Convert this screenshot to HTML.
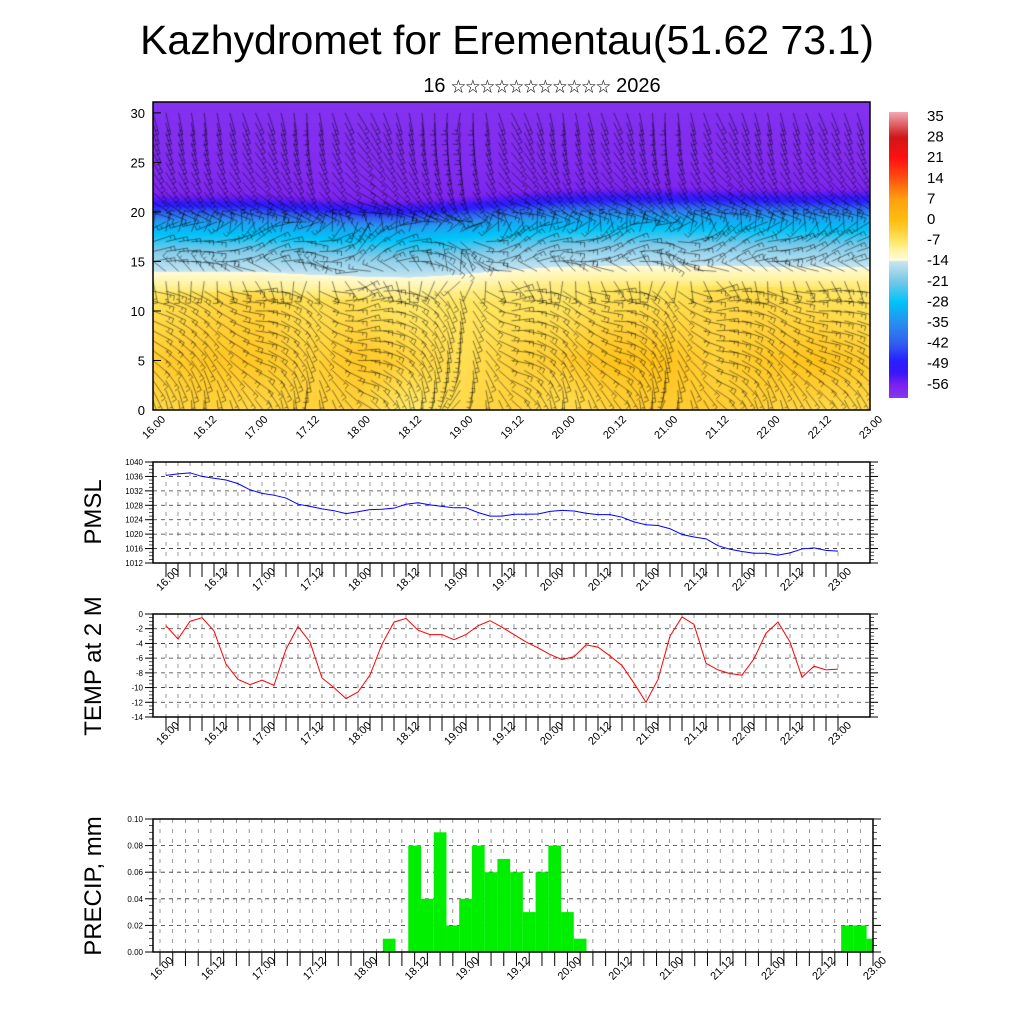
<!DOCTYPE html>
<html><head><meta charset="utf-8">
<style>
html,body{margin:0;padding:0;background:#fff;}
#wrap{position:relative;width:1024px;height:1024px;overflow:hidden;font-family:"Liberation Sans","Noto Sans CJK SC","DejaVu Sans",sans-serif;}
#cv{position:absolute;left:153px;top:102px;}
#cb{position:absolute;left:889px;top:112px;}
svg{position:absolute;left:0;top:0;}
</style></head>
<body>
<div id="wrap">
<canvas id="cv" width="717" height="308"></canvas>
<canvas id="cb" width="19" height="286"></canvas>
<svg id="sv" width="1024" height="1024">
<text x="507" y="54" font-size="41" text-anchor="middle">Kazhydromet for Erementau(51.62 73.1)</text>
<text x="542" y="92" font-size="20" text-anchor="middle">16 <tspan font-size="14.5">☆☆☆☆☆☆☆☆☆☆☆</tspan> 2026</text>
<text transform="translate(101,512) rotate(-90)" font-size="24" text-anchor="middle">PMSL</text>
<text transform="translate(101,666) rotate(-90)" font-size="24" text-anchor="middle">TEMP at 2 M</text>
<text transform="translate(101,886) rotate(-90)" font-size="24" text-anchor="middle">PRECIP, mm</text>
</svg>
</div>
<script>
// ---------- data ----------
const timeLabels = ["16.00","16.12","17.00","17.12","18.00","18.12","19.00","19.12","20.00","20.12","21.00","21.12","22.00","22.12","23.00"];
const pmsl = [1036.3,1036.7,1037,1036,1035.5,1035,1034,1032.3,1031.3,1030.8,1030,1028.3,1027.7,1027,1026.5,1025.7,1026.2,1026.8,1026.9,1027.2,1028.3,1028.7,1028.1,1027.7,1027.3,1027.3,1026,1025,1025,1025.5,1025.5,1025.6,1026.3,1026.6,1026.4,1025.8,1025.4,1025.4,1024.7,1023.4,1022.6,1022.4,1021.5,1019.9,1019.2,1018.7,1016.8,1015.8,1015.2,1014.7,1014.7,1014.2,1014.8,1015.9,1016.2,1015.5,1015.3];
const temp2m = [-1.6,-3.4,-1.0,-0.5,-2.3,-6.8,-8.9,-9.6,-9.0,-9.7,-4.8,-1.7,-3.8,-8.7,-10.0,-11.5,-10.6,-8.3,-4.1,-1.1,-0.6,-2.2,-2.8,-2.8,-3.5,-2.8,-1.6,-0.9,-1.8,-2.8,-3.8,-4.6,-5.5,-6.2,-5.8,-4.2,-4.5,-5.7,-7.0,-9.4,-12.0,-8.9,-3.0,-0.4,-1.4,-6.7,-7.6,-8.1,-8.3,-6.1,-2.6,-1.1,-3.8,-8.6,-7.1,-7.6,-7.5];
const precip = [0,0,0,0,0,0,0,0,0,0,0,0,0,0,0,0,0,0,0.01,0,0.08,0.04,0.09,0.02,0.04,0.08,0.06,0.07,0.06,0.03,0.06,0.08,0.03,0.01,0,0,0,0,0,0,0,0,0,0,0,0,0,0,0,0,0,0,0,0,0.02,0.02,0.01];
const pmslTicks = [1012,1016,1020,1024,1028,1032,1036,1040];
const tempTicks = [0,-2,-4,-6,-8,-10,-12,-14];
const precipTicks = [0,0.02,0.04,0.06,0.08,0.10];
const heightTicks = [0,5,10,15,20,25,30];
const cbLabels = [35,28,21,14,7,0,-7,-14,-21,-28,-35,-42,-49,-56];
const surfT = [-5,-4,-5,-4,-4,-8,-5,-4,-6,-4,-3,-3,-4,-5,-5];
const lowT  = [-3,-2,-2,-4,-2,-4,-6,-4,-3,-1,-1,-4,-2,-1,-3];
const midT  = [-6,-5,-4,-6,-6,-8,-7,-7,-7,-6,-6,-5,-5,-6,-7];
const tropShift = [0,0,0,-0.3,-0.5,-0.6,-0.3,0.2,0.5,0.6,0.6,0.6,0.5,0.5,0.5];
const upperH = [12,13.8,14.2,16,17.5,19,20.3,21,22,24,31];
const upperT = [-8,-13,-15,-20,-27,-33,-45,-52,-57,-58,-59];
const windDirH = [80,60,40,30,20,10,350,340,20,50,60,70,75];
const windDirC = [0,20,-20,30,-40,10,60,-30,20,-20,40,-30,10,-20,0];

const SVGNS="http://www.w3.org/2000/svg";
const sv=document.getElementById('sv');
function mk(tag,attrs,parent){const e=document.createElementNS(SVGNS,tag);for(const k in attrs)e.setAttribute(k,attrs[k]);(parent||sv).appendChild(e);return e;}
function lerp(a,b,t){return a+(b-a)*t;}
function interp1(xs,ys,x){if(x<=xs[0])return ys[0];for(let i=1;i<xs.length;i++){if(x<=xs[i]){const t=(x-xs[i-1])/(xs[i]-xs[i-1]);return lerp(ys[i-1],ys[i],t);}}return ys[ys.length-1];}
function colInterp(arr,c){const i=Math.max(0,Math.min(arr.length-1.001,c));const i0=Math.floor(i);return lerp(arr[i0],arr[i0+1],i-i0);}
const cstops=[[-61,"#8a3cf0"],[-56,"#7a20f0"],[-52,"#3818f8"],[-48,"#2a20ff"],[-42,"#3060f0"],[-35,"#2a90f0"],[-28,"#00c4f8"],[-21,"#78c8e8"],[-14.2,"#c8e6f2"],[-14,"#fffce0"],[-10,"#fff3a0"],[-7,"#ffe660"],[-3,"#ffcc30"],[0,"#ffbe10"],[7,"#ffa010"],[14,"#ff5010"],[21,"#ff1010"],[28,"#d01818"],[36.4,"#f0a8b0"]];
function hx(h){return [parseInt(h.substr(1,2),16),parseInt(h.substr(3,2),16),parseInt(h.substr(5,2),16)];}
function colorFor(v){if(v<=cstops[0][0])return hx(cstops[0][1]);for(let i=1;i<cstops.length;i++){if(v<=cstops[i][0]){const t=(v-cstops[i-1][0])/(cstops[i][0]-cstops[i-1][0]);const a=hx(cstops[i-1][1]),b=hx(cstops[i][1]);return [lerp(a[0],b[0],t),lerp(a[1],b[1],t),lerp(a[2],b[2],t)];}}return hx(cstops[cstops.length-1][1]);}
function tempAt(h,c){
  const s=colInterp(surfT,c),l=colInterp(lowT,c),m=colInterp(midT,c),sh=colInterp(tropShift,c);
  if(h<12+sh){return interp1([0,5,11,12+sh],[s,l,m,m-1.5],h);}
  return interp1(upperH.map(x=>x+sh),upperT,h);
}

const CW=717,CH=308, hMax=31.1;
const cv=document.getElementById('cv'),ctx=cv.getContext('2d');
const img=ctx.createImageData(CW,CH);
for(let y=0;y<CH;y++){const h=(CH-y)/CH*hMax;for(let x=0;x<CW;x++){const c=x/CW*14;const col=colorFor(tempAt(h,c));const p=(y*CW+x)*4;img.data[p]=col[0];img.data[p+1]=col[1];img.data[p+2]=col[2];img.data[p+3]=255;}}
ctx.putImageData(img,0,0);
ctx.strokeStyle="rgba(0,0,0,0.6)";ctx.lineWidth=0.8;
for(let i=0;i<=56;i++){for(let hk=0;hk<=30;hk++){
  const x=i*CW/56, y=CH-hk/hMax*CH;
  const c=i/4;
  const d=(interp1([0,2.5,5,7.5,10,12.5,15,17.5,20,22.5,25,27.5,30],windDirH,hk)+colInterp(windDirC,c)*(hk<20?1:0.4))*Math.PI/180;
  const L=22,ex=x+Math.cos(d)*L,ey=y+Math.sin(d)*L;
  ctx.beginPath();ctx.moveTo(x,y);ctx.lineTo(ex,ey);
  const px=Math.cos(d+Math.PI/2)*5,py=Math.sin(d+Math.PI/2)*5;
  ctx.moveTo(ex,ey);ctx.lineTo(ex+px,ey+py);
  const mx=x+Math.cos(d)*(L-4),my=y+Math.sin(d)*(L-4);
  ctx.moveTo(mx,my);ctx.lineTo(mx+px*0.6,my+py*0.6);
  ctx.stroke();
}}
const cb=document.getElementById('cb'),cbx=cb.getContext('2d');
for(let y=0;y<286;y++){const v=36.4-y/2.943;const c=colorFor(v);cbx.fillStyle=`rgb(${c[0]|0},${c[1]|0},${c[2]|0})`;cbx.fillRect(0,y,19,1);}
cbLabels.forEach((v,k)=>{const t=mk('text',{x:927,y:116+(35-v)*2.943+5,'font-size':15});t.textContent=v;

});
mk('rect',{x:153,y:102,width:717,height:308,fill:'none',stroke:'#000','stroke-width':1.5,});
heightTicks.forEach(v=>{const y=410-v/hMax*308;const t=mk('text',{x:145,y:y+5,'font-size':13,'text-anchor':'end'});t.textContent=v;


mk('line',{x1:153,x2:161,y1:y,y2:y,stroke:'#000'});});
timeLabels.forEach((lb,k)=>{const x=153+k*717/14;const t=mk('text',{transform:`translate(${x+13},420) rotate(-45)`,'font-size':11,'text-anchor':'end'});t.textContent=lb;

});

function panel(opt){
  const g=mk('g',{});
  
  
  const {L,R,T,B,x0,x1,vmin,vmax}=opt;
  const xs=i=>x0+(x1-x0)*i/56;
  const ys=v=>B-(v-vmin)/(vmax-vmin)*(B-T);
  for(let i=0;i<=56;i++){const x=xs(i);if(x<=L||x>=R)continue;mk('line',{x1:x,x2:x,y1:T,y2:B,stroke:'#555','stroke-width':0.6,'stroke-dasharray':'4,6'},g);}
  opt.ticks.forEach(v=>{const y=ys(v);mk('line',{x1:L,x2:R,y1:y,y2:y,stroke:'#333','stroke-width':0.8,'stroke-dasharray':'4,4'},g);
    mk('line',{x1:L-8,x2:L,y1:y,y2:y,stroke:'#000'},g);mk('line',{x1:R,x2:R+8,y1:y,y2:y,stroke:'#000'},g);
    const t=mk('text',{x:L-10,y:y+3,'font-size':8,'text-anchor':'end'},g);t.textContent=opt.fmt(v);
    
    });
  const step=(opt.ticks[1]-opt.ticks[0])/4;
  for(let v=Math.min(vmin,vmax);v<=Math.max(vmin,vmax)+1e-9;v+=Math.abs(step)){const y=ys(v);mk('line',{x1:L-4,x2:L,y1:y,y2:y,stroke:'#000','stroke-width':0.7},g);mk('line',{x1:R,x2:R+4,y1:y,y2:y,stroke:'#000','stroke-width':0.7},g);}
  opt.draw(g,xs,ys);
  mk('rect',{x:L,y:T,width:R-L,height:B-T,fill:'none',stroke:'#000','stroke-width':1.5},g);
  for(let i=0;i<=56;i++){const x=xs(i);mk('line',{x1:x,x2:x,y1:B,y2:B+14,stroke:'#000','stroke-width':1},g);}
  timeLabels.forEach((lb,k)=>{const x=xs(k*4);const t=mk('text',{transform:`translate(${x+14},${B+9}) rotate(-45)`,'font-size':11,'text-anchor':'end'},g);t.textContent=lb;
    
    });
}
panel({name:'pmsl-panel',L:153,R:870,T:462,B:563,x0:166,x1:838,vmin:1012,vmax:1040,ticks:pmslTicks,fmt:v=>v,
  draw:(g,xs,ys)=>{const p=mk('polyline',{points:pmsl.map((v,i)=>xs(i)+','+ys(v)).join(' '),fill:'none',stroke:'#0000ff','stroke-width':1},g);
    
    }});
panel({name:'temp-panel',L:153,R:870,T:614,B:717,x0:166,x1:838,vmin:-14,vmax:0,ticks:tempTicks,fmt:v=>v,
  draw:(g,xs,ys)=>{const p=mk('polyline',{points:temp2m.map((v,i)=>xs(i)+','+ys(v)).join(' '),fill:'none',stroke:'#ff0000','stroke-width':1},g);
    
    }});
panel({name:'precip-panel',L:153,R:873,T:819,B:952,x0:160,x1:873,vmin:0,vmax:0.1,ticks:precipTicks,fmt:v=>v.toFixed(2),
  draw:(g,xs,ys)=>{const w=(873-160)/56;precip.forEach((v,i)=>{if(v<=0)return;let a=xs(i)-w/2,b=Math.min(873,xs(i)+w/2);const r=mk('rect',{x:a,y:ys(v),width:b-a,height:952-ys(v),fill:'#00ee00'},g);
    
    });}});
</script>
</body></html>
